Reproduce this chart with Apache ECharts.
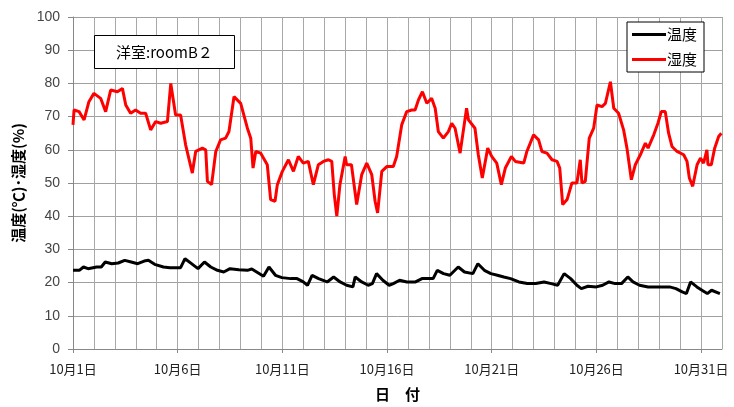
<!DOCTYPE html>
<html>
<head>
<meta charset="utf-8">
<script src="https://cdn.jsdelivr.net/npm/echarts@6/dist/echarts.min.js"></script>
<style>html,body{margin:0;padding:0;background:#fff}#c{width:734px;height:407px}</style>
</head>
<body>
<div id="c"></div>
<script>
// Day offsets from 10月1日 (0 = Oct 1, 00:00) and values
var humDays = [0.0,0.05,0.29,0.53,0.76,1.0,1.32,1.56,1.8,2.12,2.36,2.52,2.75,2.99,3.23,3.47,3.71,3.95,4.19,4.51,4.67,4.9,5.14,5.38,5.7,5.86,6.18,6.34,6.42,6.62,6.82,7.05,7.29,7.45,7.69,8.01,8.33,8.49,8.6,8.73,8.96,9.28,9.44,9.65,9.76,10.0,10.29,10.53,10.76,11.0,11.24,11.48,11.72,11.96,12.2,12.36,12.48,12.6,12.75,13.0,13.07,13.3,13.55,13.79,14.03,14.27,14.43,14.55,14.75,15.0,15.3,15.46,15.7,15.94,16.18,16.34,16.5,16.69,16.9,17.13,17.3,17.45,17.69,17.93,18.09,18.25,18.49,18.65,18.8,18.89,19.2,19.36,19.55,19.81,20.0,20.24,20.46,20.65,20.94,21.13,21.53,21.68,22.0,22.24,22.4,22.64,22.88,23.12,23.25,23.39,23.6,23.83,24.07,24.23,24.31,24.47,24.66,24.87,25.03,25.27,25.43,25.67,25.83,26.06,26.3,26.46,26.67,26.86,27.1,27.34,27.47,27.74,27.94,28.1,28.29,28.45,28.61,28.85,29.17,29.33,29.44,29.6,29.81,29.97,30.12,30.28,30.33,30.49,30.65,30.84,30.97];
var humVals = [67.5,72,71.5,69,74.5,77,75.5,71.5,78,77.5,78.5,73.5,71,72,71,71,66,68.5,68,68.5,80,70.5,70.5,61.5,53,59.5,60.5,60,50.5,49.5,59.5,63,63.5,65.5,76,74,66.5,63.5,54.5,59.5,59,55.5,45,44.5,49.5,53.5,57,53.5,58,56,56.5,49.5,55.5,56.5,57,56.5,46.5,40,49.5,58,55.5,55.5,43.5,52.5,56,52.5,44.5,41,53.5,55,55,58,67.5,71.5,72,72,75,77.5,74,75.5,72.5,65.5,63.5,65.5,68,66.5,59,66,72.5,69,66.5,58.5,51.5,60.5,58,56,49.5,54.5,58,56.5,56,59.5,64.5,63,59.5,59,57,56.5,54.5,43.5,45,50,50,57,50,50.5,63.5,66.5,73.5,73,74,80.5,72.5,71,66,60.5,51,55.5,58.5,62,60.5,64.5,68,71.5,71.5,65,61,59.5,58.5,56.5,51.5,49,55.5,57.5,56,60,55.5,55.5,60.5,64,65];

var tempDays = [0,0.3,0.5,0.72,1.13,1.35,1.54,1.85,2.16,2.47,2.78,3.09,3.4,3.6,3.9,4.32,4.63,5.14,5.35,5.66,5.97,6.28,6.58,6.9,7.2,7.5,7.92,8.33,8.54,8.85,9.1,9.36,9.67,9.98,10.4,10.7,11.0,11.2,11.42,11.73,12.14,12.45,12.76,13.07,13.37,13.48,13.79,14.1,14.3,14.5,14.8,15.1,15.3,15.6,15.95,16.36,16.67,17.2,17.4,17.7,18.0,18.4,18.7,19.1,19.34,19.65,19.96,20.27,20.58,20.9,21.3,21.7,22.1,22.5,22.84,23.15,23.46,23.77,24.07,24.28,24.6,25.0,25.3,25.6,25.9,26.2,26.5,26.75,27.06,27.47,28.0,28.5,28.8,29.1,29.3,29.5,29.8,30.1,30.3,30.5,30.9];
var tempVals = [23.7,23.7,24.7,24.2,24.7,24.7,26.2,25.7,25.9,26.7,26.2,25.7,26.5,26.7,25.5,24.7,24.5,24.5,27.2,25.7,24.2,26.2,24.7,23.7,23.2,24.2,23.9,23.7,24.1,22.9,21.9,24.7,22.2,21.5,21.2,21.2,20.2,19.2,22.2,21.2,20.2,21.7,20.2,19.2,18.7,21.7,20.2,19.2,19.7,22.7,20.7,19.2,19.7,20.7,20.2,20.2,21.2,21.2,23.7,22.7,22.2,24.7,23.2,22.7,25.7,23.7,22.7,22.2,21.7,21.2,20.2,19.7,19.7,20.2,19.7,19.2,22.7,21.2,19.2,18.2,18.9,18.7,19.2,20.2,19.7,19.7,21.7,20.2,19.2,18.7,18.7,18.7,18.2,17.2,16.7,20.2,18.7,17.5,16.7,17.7,16.7];

var seriesNames = ['温度', '湿度'];
var titleText = '洋室:roomB２';
var xName = '日　付';
var yName = '温度(℃)･湿度(%)';
var yMin = 0, yMax = 100, yStep = 10;
var dayMax = 31, labelStep = 5;

function pairs(d, v) { return d.map(function (x, i) { return [x, v[i]]; }); }

var chart = echarts.init(document.getElementById('c'), null, { renderer: 'canvas' });
var FONT = '"Liberation Sans", "Noto Sans CJK JP", sans-serif';
var JP = '"Noto Sans CJK JP", sans-serif';
chart.setOption({
  animation: false,
  backgroundColor: '#fff',
  title: {
    text: titleText, left: 94, top: 35,
    borderColor: '#000', borderWidth: 1, backgroundColor: '#fff',
    padding: [8, 22, 8, 22],
    textStyle: { fontFamily: JP, fontSize: 15, fontWeight: 'normal', color: '#000', lineHeight: 18 }
  },
  legend: {
    orient: 'vertical', left: 627, top: 22,
    borderColor: '#000', borderWidth: 1, backgroundColor: '#fff',
    padding: [5, 7, 5, 5], itemGap: 10, itemWidth: 34, itemHeight: 3, icon: 'rect',
    textStyle: { fontFamily: JP, fontSize: 15, color: '#000', padding: [0, 0, 0, -4] },
    data: seriesNames
  },
  grid: { left: 73, right: 12, top: 17, bottom: 52, containLabel: false },
  xAxis: [{
    type: 'value', min: 0, max: dayMax, interval: labelStep,
    name: xName, nameLocation: 'middle', nameGap: 38,
    nameTextStyle: { fontFamily: JP, fontSize: 15, fontWeight: 'bold', color: '#000' },
    axisLine: { show: true, lineStyle: { color: '#888', width: 1 } },
    axisTick: { show: true, length: 4, lineStyle: { color: '#888' } },
    axisLabel: {
      fontFamily: JP, fontSize: 13, color: '#222', margin: 14, showMaxLabel: false,
      formatter: function (v) { return (v % labelStep === 0) ? '10月' + (v + 1) + '日' : ''; }
    },
    splitLine: { show: false }
  }, {
    type: 'value', min: 0, max: dayMax, interval: 1, position: 'bottom',
    axisLine: { show: false }, axisTick: { show: false }, axisLabel: { show: false },
    splitLine: { show: true, lineStyle: { color: '#a8a8a8', width: 1 } }
  }],
  yAxis: {
    type: 'value', min: yMin, max: yMax, interval: yStep,
    name: yName, nameLocation: 'middle', nameGap: 46, nameRotate: 90,
    nameTextStyle: { fontFamily: JP, fontSize: 15, fontWeight: 'bold', color: '#000' },
    axisLine: { show: true, lineStyle: { color: '#888', width: 1 } },
    axisTick: { show: true, length: 5, lineStyle: { color: '#888' } },
    axisLabel: { fontFamily: FONT, fontSize: 14, color: '#444', margin: 13 },
    splitLine: { show: true, lineStyle: { color: '#a0a0a0', width: 1 } }
  },
  series: [{
    name: seriesNames[0], type: 'line', xAxisIndex: 0, showSymbol: false, symbol: 'none',
    data: pairs(tempDays, tempVals),
    lineStyle: { color: '#000', width: 3 }, itemStyle: { color: '#000' }, z: 3
  }, {
    name: seriesNames[1], type: 'line', xAxisIndex: 0, showSymbol: false, symbol: 'none',
    data: pairs(humDays, humVals),
    lineStyle: { color: '#ff0000', width: 3 }, itemStyle: { color: '#ff0000' }, z: 4
  }]
});
</script>
</body>
</html>
